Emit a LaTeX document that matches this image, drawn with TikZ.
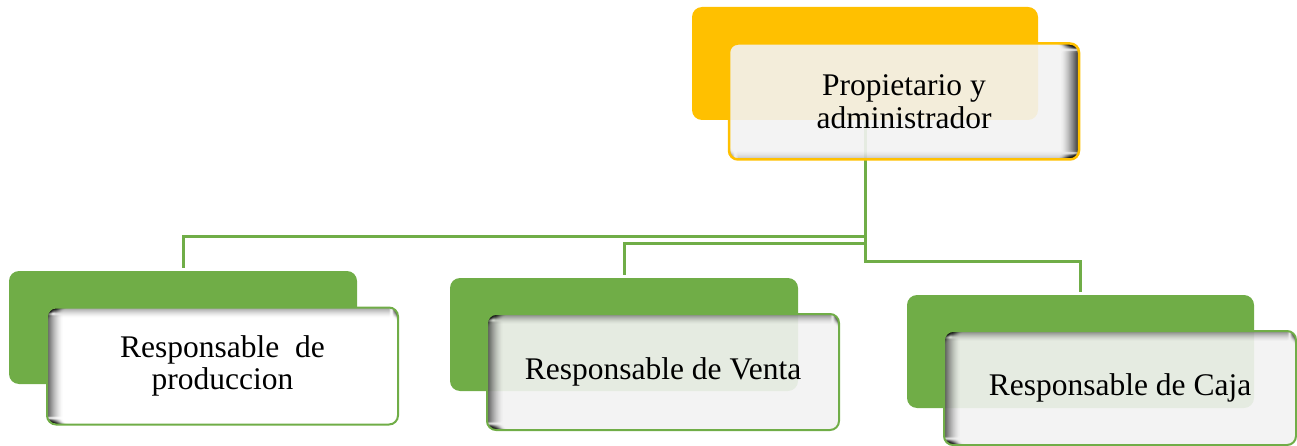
\documentclass[tikz,border=0pt]{standalone}
\usepackage{fontspec}
\setmainfont{Liberation Serif}
\definecolor{gold}{HTML}{FFC000}
\definecolor{leaf}{HTML}{70AD47}
\definecolor{paper}{HTML}{F2F2F2}
\tikzset{
  backbox/.style={rounded corners=10pt, inner sep=0pt, draw=none},
  goldback/.style={backbox, fill=gold},
  greenback/.style={backbox, fill=leaf},
  frontbox/.style={rounded corners=9pt, inner sep=0pt, line width=2pt, fill=paper,
    fill opacity=0.9, text opacity=1, align=center, text=black,
    font=\fontsize{31.5}{32.5}\selectfont},
  goldfront/.style={frontbox, draw=gold, line width=2.5pt},
  greenfront/.style={frontbox, draw=leaf},
  leftshade/.style={path picture={
    \foreach \i in {0,...,15}{
      \pgfmathsetmacro\op{0.6*(1-\i/16)^1.6}
      \fill[black, opacity=\op] ([xshift=\i*1pt]path picture bounding box.north west) rectangle ([xshift=\i*1pt+1.05pt]path picture bounding box.south west);
    }
    \foreach \i in {0,...,9}{
      \pgfmathsetmacro\op{0.4*(1-\i/10)^1.6}
      \fill[black, opacity=\op] ([yshift=-\i*1pt]path picture bounding box.north west) rectangle ([yshift=-\i*1pt-1.05pt]path picture bounding box.north east);
    }
  }},
  rightshade/.style={path picture={
    \foreach \i in {0,...,17}{
      \pgfmathsetmacro\op{0.7*(1-\i/18)^1.6}
      \fill[black, opacity=\op] ([xshift=-\i*1pt]path picture bounding box.north east) rectangle ([xshift=-\i*1pt-1.05pt]path picture bounding box.south east);
    }
    \foreach \i in {0,...,7}{
      \pgfmathsetmacro\op{0.2*(1-\i/8)^1.6}
      \fill[black, opacity=\op] ([yshift=\i*1pt]path picture bounding box.south west) rectangle ([yshift=\i*1pt+1.05pt]path picture bounding box.south east);
    }
  }},
  conn/.style={draw=leaf, line width=3pt, shorten >=3pt},
}
\begin{document}
\begin{tikzpicture}[x=1pt, y=-1pt]
\useasboundingbox (0,0) rectangle (1297,446);
% back boxes
\node[goldback, minimum width=346pt, minimum height=113pt] (t0) at (865,63.5) {};
\node[greenback, minimum width=348pt, minimum height=113pt] (b1) at (183,327.5) {};
\node[greenback, minimum width=348pt, minimum height=113pt] (b2) at (624,334.5) {};
\node[greenback, minimum width=347pt, minimum height=113pt] (b3) at (1080.5,351.5) {};
% connectors
\coordinate (j1) at (865,237);
\coordinate (j2) at (865,244);
\coordinate (j3) at (865,261);
\draw[conn] (t0.south) -- (j1) -| (b1.north);
\draw[conn] (t0.south) -- (j2) -| (b2.north);
\draw[conn] (t0.south) -- (j3) -| (b3.north);
% front boxes
\node[goldfront, rightshade, minimum width=350pt, minimum height=116pt] (f0) at (904,101.5) {Propietario y\\administrador};
\node[greenfront, leftshade, fill=white, fill opacity=1, minimum width=351pt, minimum height=117pt] (f1) at (222.5,366) {Responsable\ \ de\\produccion};
\node[greenfront, leftshade, minimum width=352pt, minimum height=116pt] (f2) at (663,372) {Responsable de Venta};
\node[greenfront, leftshade, minimum width=352pt, minimum height=114pt] (f3) at (1120,388) {Responsable de Caja};
\end{tikzpicture}
\end{document}
